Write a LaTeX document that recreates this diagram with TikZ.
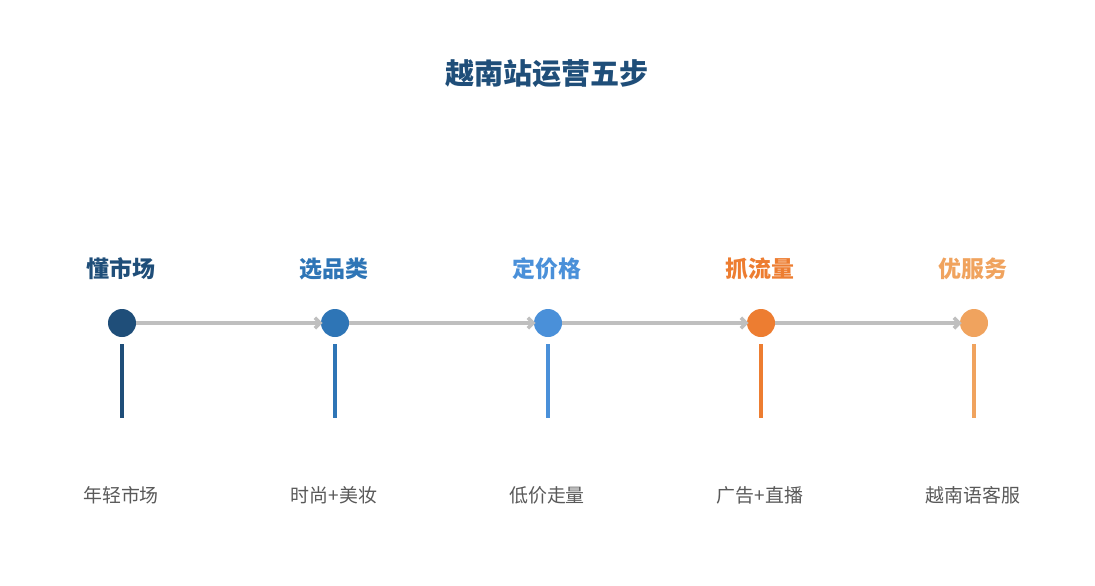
\documentclass[tikz,border=0pt]{standalone}
\usepackage{fontspec}
\usepackage{xcolor}
\usepackage{tikz}
\usetikzlibrary{arrows.meta}
\newfontfamily\cjk{Noto Sans CJK SC}
\definecolor{navy}{HTML}{1F4E79}
\definecolor{midblue}{HTML}{2E75B6}
\definecolor{skyblue}{HTML}{4A90D9}
\definecolor{deeporange}{HTML}{ED7D31}
\definecolor{softorange}{HTML}{F0A35E}
\definecolor{linegray}{HTML}{BFBFBF}
\definecolor{textgray}{HTML}{595959}

\begin{document}
\begin{tikzpicture}[x=0.75pt,y=-0.75pt,
    dot/.style={circle,inner sep=0pt,minimum size=21pt},
    steplabel/.style={font=\cjk\bfseries\fontsize{17.2}{19}\selectfont},
    desc/.style={font=\cjk\fontsize{14.2}{16}\selectfont,text=textgray},
    flow/.style={draw=linegray,line width=2.7pt,shorten >=-1.5pt,-{Straight Barb[length=4pt,width=8pt]}},
    stem/.style={line width=3pt}]
    \useasboundingbox (0,0) rectangle (1095,585);
    \node (title) at (547,74) {\cjk\bfseries\fontsize{21.8}{24}\selectfont\color{navy}越南站运营五步};

    \node [dot,fill=navy] (a) at (122,323) {};
    \node [dot,fill=midblue] (b) at (335,323) {};
    \node [dot,fill=skyblue] (c) at (548,323) {};
    \node [dot,fill=deeporange] (d) at (761,323) {};
    \node [dot,fill=softorange] (e) at (974,323) {};

    \node [steplabel,text=navy] (la) at (121,269) {懂市场};
    \node [steplabel,text=midblue] (lb) at (334,269) {选品类};
    \node [steplabel,text=skyblue] (lc) at (547,269) {定价格};
    \node [steplabel,text=deeporange] (ld) at (760,269) {抓流量};
    \node [steplabel,text=softorange] (le) at (973,269) {优服务};

    \draw [flow] (a) to (b);
    \draw [flow] (b) to (c);
    \draw [flow] (c) to (d);
    \draw [flow] (d) to (e);

    \draw [stem,navy] (122,344) -- (122,418);
    \draw [stem,midblue] (335,344) -- (335,418);
    \draw [stem,skyblue] (548,344) -- (548,418);
    \draw [stem,deeporange] (761,344) -- (761,418);
    \draw [stem,softorange] (974,344) -- (974,418);

    \node [desc] (da) at (121,495) {年轻市场};
    \node [desc] (db) at (334,495) {时尚+美妆};
    \node [desc] (dc) at (547,495) {低价走量};
    \node [desc] (dd) at (760,495) {广告+直播};
    \node [desc] (de) at (973,495) {越南语客服};
  \end{tikzpicture}
\end{document}
